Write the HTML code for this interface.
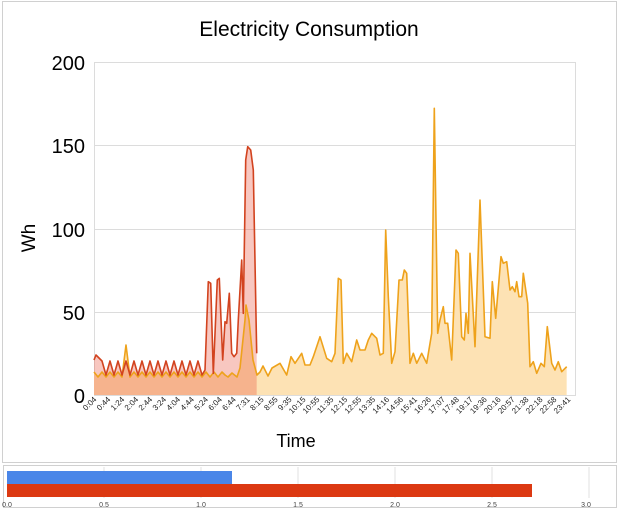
<!DOCTYPE html>
<html><head><meta charset="utf-8"><style>
body{margin:0;background:#fff;width:620px;height:509px;overflow:hidden;font-family:"Liberation Sans",Arial,sans-serif}
</style></head><body>
<svg id="s" width="620" height="509" xmlns="http://www.w3.org/2000/svg" font-family="Liberation Sans, Arial, sans-serif">
<rect x="2.5" y="1.5" width="614" height="461" fill="#fff" stroke="#d0d0d0"/>
<text x="309" y="36" font-size="21" text-anchor="middle" fill="#000">Electricity Consumption</text>
<rect x="94.5" y="62.5" width="481" height="333" fill="#fff" stroke="#dcdcdc"/>
<g stroke="#dcdcdc"><line x1="94" y1="145.5" x2="576" y2="145.5"/><line x1="94" y1="229.5" x2="576" y2="229.5"/><line x1="94" y1="312.5" x2="576" y2="312.5"/></g>
<g font-size="20" text-anchor="end" fill="#000"><text x="85" y="70">200</text><text x="85" y="153">150</text><text x="85" y="237">100</text><text x="85" y="320">50</text><text x="85" y="403">0</text></g>
<text transform="translate(35,238) rotate(-90)" font-size="19" text-anchor="middle">Wh</text>
<text x="296" y="447" font-size="18" text-anchor="middle">Time</text>
<g id="series"></g>
<g id="xl" font-size="8" fill="#222"></g>
<rect x="3.5" y="465.5" width="613" height="42" fill="#fff" stroke="#d0d0d0"/>
<g stroke="#e0e0e0"><line x1="104" y1="467" x2="104" y2="498"/><line x1="201" y1="467" x2="201" y2="498"/><line x1="298" y1="467" x2="298" y2="498"/><line x1="395" y1="467" x2="395" y2="498"/><line x1="492" y1="467" x2="492" y2="498"/><line x1="589" y1="467" x2="589" y2="498"/></g>
<rect x="7" y="471" width="225" height="13" fill="#4a86e8"/>
<rect x="7" y="484" width="525" height="13" fill="#dc3912"/>
<g font-size="7" fill="#444" text-anchor="middle"><text x="7" y="507">0.0</text><text x="104" y="507">0.5</text><text x="201" y="507">1.0</text><text x="298" y="507">1.5</text><text x="395" y="507">2.0</text><text x="492" y="507">2.5</text><text x="586" y="507">3.0</text></g>
</svg>
<script>
var NS="http://www.w3.org/2000/svg";
function el(t,a){var e=document.createElementNS(NS,t);for(var k in a)e.setAttribute(k,a[k]);return e;}
var base=395;
// orange left part: wiggles
var o=[];
for(var x=94;x<225;x+=4){o.push([x,(Math.floor((x-94)/4)%2)?377:372]);}
o[8]=[126,345];
o=o.concat([[225,375],[228,377],[232,373],[237,377],[240,368],[245,320],[246,305],[249,320],[253,360],[257,375],[260,372],[263,366],[268,376],[272,368]]);
var z=[[0,820],[12,800],[25,825],[40,800],[55,825],[75,790],[95,825],[108,770],[120,790],[140,760],[150,795],[165,795],[175,770],[195,710],[215,775],[230,785],[240,760],[250,535],[258,540],[265,790],[275,760],[290,785],[305,720],[315,750],[330,750],[340,720],[350,700],[365,715],[375,765],[385,760],[392,390],[400,590],[410,790],[420,755],[432,540],[442,540],[448,510],[455,520],[465,790],[475,760],[485,790],[500,760],[515,790],[530,700],[538,25],[548,700],[555,660],[565,620],[570,670],[578,670],[590,780],[603,450],[610,460],[620,710],[628,720],[633,640],[640,700],[645,460],[660,740],[675,300],[690,710],[705,715],[712,545],[722,655],[738,470],[745,490],[755,485],[765,570],[772,560],[780,575],[785,545],[792,590],[800,590],[805,520],[818,610],[825,800],[835,785],[845,820],[858,790],[868,800],[877,680],[890,790],[900,810],[910,785],[920,815],[935,800]];
z.forEach(function(p){var X=255+p[0]/3;if(X>274)o.push([X,100+p[1]/3]);});
var r=[];
for(var x=94;x<204;x+=4){r.push([x,(Math.floor((x-94)/4)%2)?375:361]);}
r[0]=[94,360];r[1]=[96,355];
var rz=[[375,690],[385,425],[392,430],[400,700],[412,420],[418,415],[428,660],[435,545],[440,550],[448,460],[455,640],[462,650],[470,640],[475,540],[485,360],[490,520],[497,60],[503,20],[512,30],[520,90],[530,640]];
rz.forEach(function(p){r.push([80+p[0]/3,140+p[1]/3]);});
function pts(a){return a.map(function(p){return p[0].toFixed(1)+","+p[1].toFixed(1);}).join(" ");}
var g=document.getElementById("series");
function area(a,fill,stroke){
 var x0=a[0][0],x1=a[a.length-1][0];
 g.appendChild(el("polygon",{points:x0+","+base+" "+pts(a)+" "+x1+","+base,fill:fill}));
 return el("polyline",{points:pts(a),fill:"none",stroke:stroke,"stroke-width":"1.6","stroke-linejoin":"round"});
}
var lo=area(o,"#fde2b4","#eea21b");
var lr=area(r,"rgba(232,80,60,0.32)","#d2431f");
g.appendChild(lo);g.appendChild(lr);
var labs="0:04 0:44 1:24 2:04 2:44 3:24 4:04 4:44 5:24 6:04 6:44 7:31 8:15 8:55 9:35 10:15 10:55 11:35 12:15 12:55 13:35 14:16 14:56 15:41 16:26 17:07 17:48 19:17 19:36 20:16 20:57 21:38 22:18 22:58 23:41".split(" ");
var xl=document.getElementById("xl");
var n=labs.length;
labs.forEach(function(s,i){var X=97+i*(568-94)/(n-1);var t=el("text",{transform:"translate("+X+",400) rotate(-45)","text-anchor":"end"});t.textContent=s;xl.appendChild(t);});
</script>
</body></html>
